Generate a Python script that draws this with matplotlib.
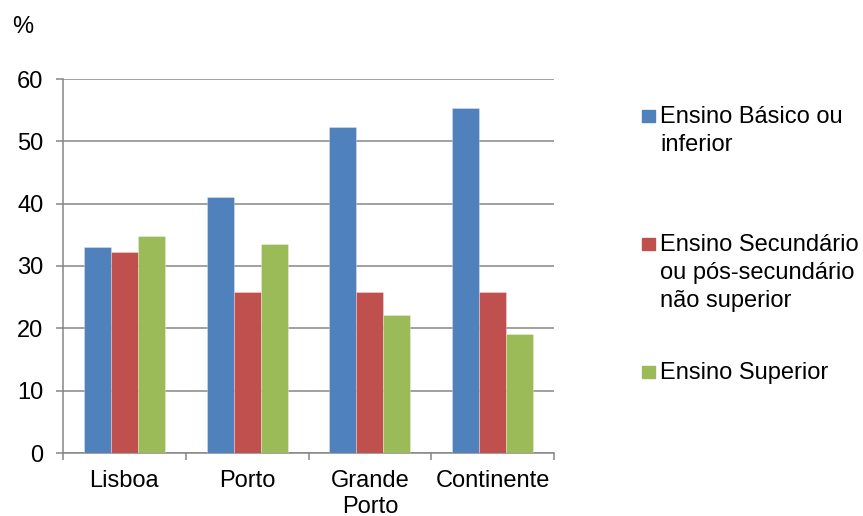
import numpy as np
import matplotlib
matplotlib.use("Agg")
import matplotlib.pyplot as plt
from matplotlib.patches import Rectangle

plt.rcParams["font.family"] = ["Liberation Sans", "DejaVu Sans"]

# Education level by region (%)
regions = ["Lisboa", "Porto", "Grande\nPorto", "Continente"]
basico = [33.0, 41.0, 52.3, 55.3]
secundario = [32.3, 25.8, 25.8, 25.9]
superior = [34.8, 33.5, 22.1, 19.1]

series_labels = [
    "Ensino Básico ou\ninferior",
    "Ensino Secundário\nou pós-secundário\nnão superior",
    "Ensino Superior",
]
colors = ["#4F81BD", "#C0504D", "#9BBB59"]
FS = 17

fig = plt.figure(figsize=(8.63, 5.16), dpi=100)
ax = fig.add_axes([63 / 863, 1 - 453 / 516, 491 / 863, 374 / 516])

x = np.arange(len(regions))
width = 0.22
for i, (vals, col) in enumerate(zip([basico, secundario, superior], colors)):
    ax.bar(x + (i - 1) * width, vals, width, color=col,
           edgecolor=(1, 1, 1, 0.35), linewidth=0.6, zorder=3)

ax.set_xlim(-0.5, len(regions) - 0.5)
ax.set_ylim(0, 60)
ax.set_yticks(range(0, 61, 10))
ax.yaxis.grid(True, color="#868686", linewidth=1.1, zorder=0)

ax.set_xticks(x)
ax.set_xticklabels(regions, fontsize=FS, linespacing=1.25)
ax.set_xticks(np.arange(-0.5, len(regions)), minor=True)
ax.tick_params(axis="x", which="major", length=0, pad=12)
ax.tick_params(axis="x", which="minor", length=5, width=1.1, color="#868686")
ax.tick_params(axis="y", length=5, width=1.1, color="#868686", pad=9,
               labelsize=FS)

for side in ["top", "right"]:
    ax.spines[side].set_visible(False)
for side in ["left", "bottom"]:
    ax.spines[side].set_color("#868686")
    ax.spines[side].set_linewidth(1.1)

fig.text(12 / 863, 1 - 33 / 516, "%", fontsize=FS, va="baseline")

# legend drawn by hand so the entries sit at even spacing
line_h = 28
first_baselines = [123, 251, 379]
for lab, col, yb in zip(series_labels, colors, first_baselines):
    n = lab.count("\n")
    fig.add_artist(Rectangle((642 / 863, 1 - (yb - 1) / 516), 13 / 863, 12 / 516,
                             transform=fig.transFigure, color=col))
    fig.text(660 / 863, 1 - (yb + n * line_h) / 516, lab, fontsize=FS,
             va="baseline", linespacing=1.34)

fig.savefig("out.png", dpi=100)
